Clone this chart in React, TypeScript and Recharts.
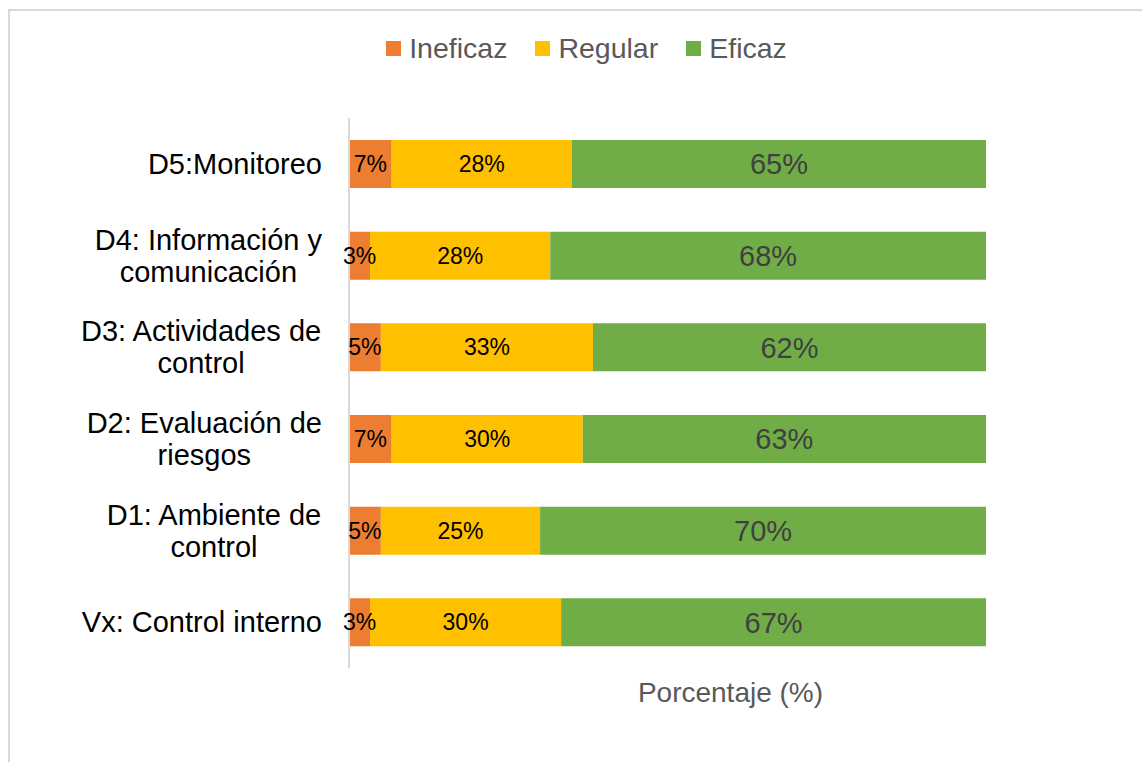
import { BarChart, Bar, XAxis, YAxis, Legend, LabelList } from "recharts";

// dimensiones (orden de arriba hacia abajo)
const categorias = [
  "D5:Monitoreo",
  "D4: Información y\ncomunicación",
  "D3: Actividades de\ncontrol",
  "D2: Evaluación de\nriesgos",
  "D1: Ambiente de\ncontrol",
  "Vx: Control interno",
];

// porcentajes
const ineficaz = [6.7, 3.3, 5.0, 6.7, 5.0, 3.3];
const regular = [28.3, 28.3, 33.3, 30.0, 25.0, 30.0];
const eficaz = [65.0, 68.4, 61.7, 63.3, 70.0, 66.7];

const seriesNames = ["Ineficaz", "Regular", "Eficaz"];
const axisTitle = "Porcentaje (%)";

const FONT = '"Liberation Sans", Arial, sans-serif';
const COLORS = ["#ED7D31", "#FFC000", "#70AD47"];

const data = categorias.map((cat, i) => ({
  cat,
  ineficaz: ineficaz[i],
  regular: regular[i],
  eficaz: eficaz[i],
}));

let ctx: CanvasRenderingContext2D | null = null;
const measure = (txt: string, size: number) => {
  if (!ctx) ctx = document.createElement("canvas").getContext("2d");
  if (!ctx) return txt.length * size * 0.5;
  ctx.font = `${size}px "Liberation Sans", Arial, sans-serif`;
  return ctx.measureText(txt).width;
};

const CategoryTick = (props: any) => {
  const { x, y, payload } = props;
  const fs = 29;
  const lines = String(payload.value).split("\n");
  const maxW = Math.max(...lines.map((l) => measure(l, fs)));
  const cx = x - maxW / 2;
  return (
    <g>
      {lines.map((l, i) => (
        <text
          key={i}
          x={cx}
          y={y + (i - (lines.length - 1) / 2) * 32 + fs * 0.355}
          textAnchor="middle"
          fontSize={fs}
          fontFamily={FONT}
          fill="#000"
        >
          {l}
        </text>
      ))}
    </g>
  );
};

const LegendContent = () => (
  <div
    style={{
      display: "flex",
      justifyContent: "center",
      alignItems: "center",
      paddingLeft: 21,
      height: 34,
      fontFamily: FONT,
      fontSize: 28.5,
      color: "#595959",
    }}
  >
    {seriesNames.map((n, i) => (
      <div key={n} style={{ display: "flex", alignItems: "center", marginRight: i < 2 ? 28 : 0 }}>
        <span style={{ width: 15, height: 15, background: COLORS[i], marginRight: 8 }} />
        <span>{n}</span>
      </div>
    ))}
  </div>
);

const fmt = (v: any) => `${Math.round(Number(v))}%`;

export default function App() {
  return (
    <div
      style={{
        position: "absolute",
        left: 8,
        top: 9,
        width: 1134,
        height: 753,
        boxSizing: "border-box",
        borderTop: "2px solid #d9d9d9",
        borderLeft: "2px solid #d9d9d9",
        background: "#fff",
      }}
    >
      <BarChart
        width={1132}
        height={751}
        data={data}
        layout="vertical"
        margin={{ top: 107, right: 156, bottom: 0, left: 0 }}
        barSize={48}
      >
        <XAxis
          type="number"
          domain={[0, 100]}
          height={94}
          tick={false}
          tickLine={false}
          axisLine={false}
          label={{
            content: ({ viewBox }: any) => (
              <text
                x={viewBox.x + viewBox.width / 2 + 63}
                y={viewBox.y + 24 + 28 * 0.355}
                textAnchor="middle"
                fontSize={28}
                fontFamily={FONT}
                fill="#595959"
              >
                {axisTitle}
              </text>
            ),
          }}
        />
        <YAxis
          type="category"
          dataKey="cat"
          width={339}
          tickSize={0}
          tickMargin={27}
          tickLine={false}
          axisLine={{ stroke: "#d9d9d9", strokeWidth: 2 }}
          tick={<CategoryTick />}
          interval={0}
        />
        <Legend
          verticalAlign="middle"
          align="center"
          layout="horizontal"
          wrapperStyle={{ top: 20, left: 0, width: 1132 }}
          content={<LegendContent />}
        />
        <Bar dataKey="ineficaz" name={seriesNames[0]} stackId="a" fill={COLORS[0]} isAnimationActive={false}>
          <LabelList dataKey="ineficaz" position="center" formatter={fmt} fill="#000" fontSize={23} fontFamily={FONT} />
        </Bar>
        <Bar dataKey="regular" name={seriesNames[1]} stackId="a" fill={COLORS[1]} isAnimationActive={false}>
          <LabelList dataKey="regular" position="center" formatter={fmt} fill="#000" fontSize={23} fontFamily={FONT} />
        </Bar>
        <Bar dataKey="eficaz" name={seriesNames[2]} stackId="a" fill={COLORS[2]} isAnimationActive={false}>
          <LabelList dataKey="eficaz" position="center" formatter={fmt} fill="#404040" fontSize={29} fontFamily={FONT} />
        </Bar>
      </BarChart>
    </div>
  );
}
